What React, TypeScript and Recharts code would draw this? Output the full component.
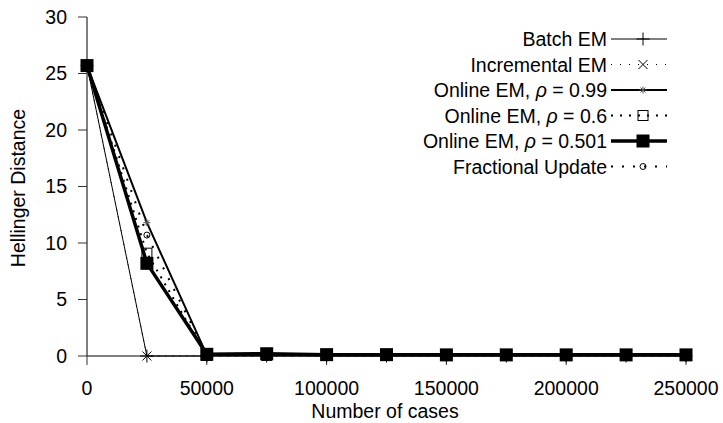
import React from 'react';
import { LineChart, Line, XAxis, YAxis, Legend } from 'recharts';

const cases = [0, 25000, 50000, 75000, 100000, 125000, 150000, 175000, 200000, 225000, 250000];
const batchEM = [25.7, 0, 0, 0, 0, 0, 0, 0, 0, 0, 0];
const incrementalEM = [25.7, 0, 0.05, 0.05, 0.05, 0.05, 0.05, 0.05, 0.05, 0.05, 0.05];
const onlineEM099 = [25.7, 11.8, 0.1, 0.1, 0.1, 0.1, 0.1, 0.1, 0.1, 0.1, 0.1];
const onlineEM06 = [25.7, 9.1, 0.05, 0.05, 0.05, 0.05, 0.05, 0.05, 0.05, 0.05, 0.05];
const onlineEM0501 = [25.7, 8.2, 0.15, 0.2, 0.12, 0.12, 0.1, 0.1, 0.1, 0.1, 0.1];
const fractionalUpdate = [25.7, 10.7, 0.1, 0.1, 0.1, 0.1, 0.1, 0.1, 0.1, 0.1, 0.1];

const xTicks = [0, 50000, 100000, 150000, 200000, 250000];
const yTicks = [0, 5, 10, 15, 20, 25, 30];

const data = cases.map((c, i) => ({
  cases: c,
  batch: batchEM[i],
  incr: incrementalEM[i],
  o099: onlineEM099[i],
  o06: onlineEM06[i],
  o0501: onlineEM0501[i],
  frac: fractionalUpdate[i],
}));

const FONT = '"Liberation Sans", Arial, Helvetica, sans-serif';
const FS = 19.5;
const W = 723;
const H = 423;

type Kind = 'plus' | 'cross' | 'star' | 'osq' | 'fsq' | 'circ';

function marker(kind: Kind, cx: number, cy: number, key?: any) {
  switch (kind) {
    case 'plus':
      return (
        <g key={key}>
          <line x1={cx - 6.5} y1={cy} x2={cx + 6.5} y2={cy} stroke="#000" strokeWidth={1} />
          <line x1={cx} y1={cy - 6.5} x2={cx} y2={cy + 6.5} stroke="#000" strokeWidth={1} />
        </g>
      );
    case 'cross':
      return (
        <g key={key}>
          <line x1={cx - 4.5} y1={cy - 4.5} x2={cx + 4.5} y2={cy + 4.5} stroke="#000" strokeWidth={1} />
          <line x1={cx - 4.5} y1={cy + 4.5} x2={cx + 4.5} y2={cy - 4.5} stroke="#000" strokeWidth={1} />
        </g>
      );
    case 'star':
      return (
        <g key={key} stroke="#555" strokeWidth={1}>
          <line x1={cx - 3.5} y1={cy} x2={cx + 3.5} y2={cy} />
          <line x1={cx} y1={cy - 3.5} x2={cx} y2={cy + 3.5} />
          <line x1={cx - 2.5} y1={cy - 2.5} x2={cx + 2.5} y2={cy + 2.5} />
          <line x1={cx - 2.5} y1={cy + 2.5} x2={cx + 2.5} y2={cy - 2.5} />
        </g>
      );
    case 'osq':
      return <rect key={key} x={cx - 5} y={cy - 5} width={10} height={10} fill="none" stroke="#000" strokeWidth={1} />;
    case 'fsq':
      return <rect key={key} x={cx - 6.5} y={cy - 6.5} width={13} height={13} fill="#000" />;
    case 'circ':
    default:
      return <circle key={key} cx={cx} cy={cy} r={3} fill="none" stroke="#000" strokeWidth={1} />;
  }
}

const dotFn = (kind: Kind) => (props: any) => {
  const { cx, cy, index } = props;
  if (cx == null || cy == null) return <g key={index} />;
  return marker(kind, cx, cy, index);
};

type Series = {
  key: string;
  label: React.ReactNode;
  kind: Kind;
  width: number;
  dash?: string;
  legendDash?: string;
};

const series: Series[] = [
  { key: 'batch', label: 'Batch EM', kind: 'plus', width: 1 },
  { key: 'incr', label: 'Incremental EM', kind: 'cross', width: 1, dash: '1 6', legendDash: '1 8' },
  {
    key: 'o099',
    label: (
      <>
        Online EM, <tspan fontStyle="italic">ρ</tspan> = 0.99
      </>
    ),
    kind: 'star',
    width: 2,
  },
  {
    key: 'o06',
    label: (
      <>
        Online EM, <tspan fontStyle="italic">ρ</tspan> = 0.6
      </>
    ),
    kind: 'osq',
    width: 2,
    dash: '2 6',
    legendDash: '2 7',
  },
  {
    key: 'o0501',
    label: (
      <>
        Online EM, <tspan fontStyle="italic">ρ</tspan> = 0.501
      </>
    ),
    kind: 'fsq',
    width: 3.5,
  },
  { key: 'frac', label: 'Fractional Update', kind: 'circ', width: 2, dash: '2 10', legendDash: '2 9' },
];

const legendRowsY = [39, 64.5, 90, 115.5, 141, 166.5];

const LegendContent = () => (
  <svg width={W} height={H} style={{ position: 'absolute', left: 0, top: 0, overflow: 'visible' }}>
    {series.map((s, i) => {
      const y = legendRowsY[i];
      return (
        <g key={s.key}>
          <text x={607} y={y + 7} textAnchor="end" fontFamily={FONT} fontSize={FS} fill="#000">
            {s.label}
          </text>
          <line
            x1={611}
            y1={y}
            x2={667}
            y2={y}
            stroke="#000"
            strokeWidth={s.width}
            strokeDasharray={s.legendDash}
          />
          {marker(s.kind, 643, y)}
        </g>
      );
    })}
  </svg>
);

const emptyTick = () => <g />;

export default function App() {
  return (
    <div style={{ position: 'fixed', left: 0, top: 0, width: W, height: H, overflow: 'visible', background: '#fff' }}>
      <LineChart
        width={W}
        height={H}
        data={data}
        margin={{ top: 17, right: 37, bottom: 0, left: 8 }}
        style={{ fontFamily: FONT }}
      >
        <XAxis
          xAxisId="bottom"
          dataKey="cases"
          type="number"
          domain={[0, 250000]}
          ticks={xTicks}
          interval={0}
          height={67}
          tickSize={9}
          tickMargin={16}
          axisLine={{ stroke: '#000', strokeWidth: 1 }}
          tickLine={{ stroke: '#333', strokeWidth: 1 }}
          tick={{ fill: '#000', fontSize: FS, fontFamily: FONT }}
          label={{
            content: () => (
              <text x={385} y={418} textAnchor="middle" fontFamily={FONT} fontSize={FS} fill="#000">
                Number of cases
              </text>
            ),
          }}
        />
        <XAxis
          xAxisId="top"
          orientation="top"
          dataKey="cases"
          type="number"
          domain={[0, 250000]}
          ticks={xTicks}
          interval={0}
          height={0}
          tickSize={9}
          axisLine={{ stroke: '#000', strokeWidth: 1 }}
          tickLine={{ stroke: '#333', strokeWidth: 1 }}
          tick={emptyTick}
        />
        <YAxis
          yAxisId="left"
          type="number"
          domain={[0, 30]}
          ticks={yTicks}
          interval={0}
          width={79}
          tickSize={9}
          tickMargin={11}
          axisLine={{ stroke: '#000', strokeWidth: 1 }}
          tickLine={{ stroke: '#333', strokeWidth: 1 }}
          tick={{ fill: '#000', fontSize: FS, fontFamily: FONT }}
          label={{
            content: () => (
              <text
                x={25}
                y={188}
                transform="rotate(-90, 25, 188)"
                textAnchor="middle"
                fontFamily={FONT}
                fontSize={FS}
                fill="#000"
              >
                Hellinger Distance
              </text>
            ),
          }}
        />
        <YAxis
          yAxisId="right"
          orientation="right"
          type="number"
          domain={[0, 30]}
          ticks={yTicks}
          interval={0}
          width={0}
          tickSize={9}
          axisLine={{ stroke: '#000', strokeWidth: 1 }}
          tickLine={{ stroke: '#333', strokeWidth: 1 }}
          tick={emptyTick}
        />
        <Legend
          layout="vertical"
          align="center"
          verticalAlign="middle"
          content={LegendContent}
          wrapperStyle={{ position: 'absolute', left: 0, top: 0, width: W, height: H, pointerEvents: 'none' }}
        />
        {series.map((s) => (
          <Line
            key={s.key}
            xAxisId="bottom"
            yAxisId="left"
            type="linear"
            dataKey={s.key}
            stroke="#000"
            strokeWidth={s.width}
            strokeDasharray={s.dash}
            dot={dotFn(s.kind)}
            activeDot={false}
            isAnimationActive={false}
          />
        ))}
      </LineChart>
    </div>
  );
}
